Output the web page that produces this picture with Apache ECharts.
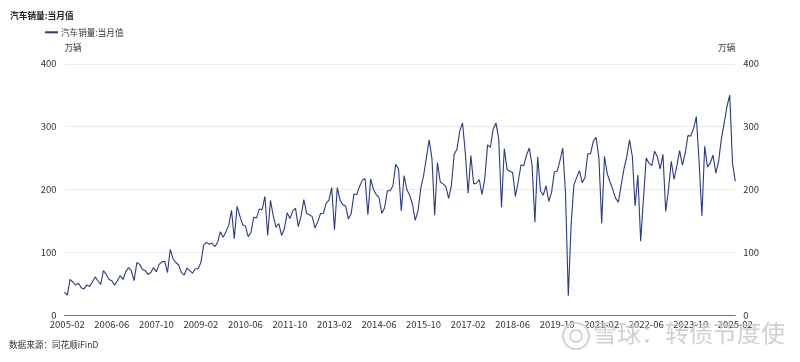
<!DOCTYPE html>
<html>
<head>
<meta charset="utf-8">
<script src="https://cdn.jsdelivr.net/npm/echarts@6/dist/echarts.min.js"></script>
<style>
html,body{margin:0;padding:0;background:#fff;}
#chart{width:800px;height:362px;}
</style>
</head>
<body>
<div id="chart"></div>
<script>
// Monthly auto sales (万辆), 2005-01 .. 2025-02
const sales2005 = [37, 32, 57, 53, 48, 51, 44, 42, 48, 46, 53, 61];
const sales2006 = [55, 49, 71, 65, 57, 55, 48, 55, 63, 57, 69, 76];
const sales2007 = [71, 55, 84, 81, 73, 71, 65, 68, 76, 69, 81, 85];
const sales2008 = [86, 68, 105, 90, 84, 80, 68, 64, 75, 71, 67, 74];
const sales2009 = [74, 84, 112, 116, 113, 115, 109, 116, 133, 124, 133, 143];
const sales2010 = [167, 122, 173, 158, 144, 142, 125, 132, 156, 155, 169, 168];
const sales2011 = [189, 127, 183, 158, 140, 146, 127, 138, 163, 154, 166, 170];
const sales2012 = [141, 158, 184, 162, 160, 157, 139, 149, 162, 162, 178, 183];
const sales2013 = [203, 136, 203, 183, 176, 174, 153, 162, 193, 192, 205, 215];
const sales2014 = [217, 160, 217, 200, 192, 187, 162, 171, 198, 198, 206, 240];
const sales2015 = [233, 166, 222, 200, 191, 177, 151, 166, 202, 222, 250, 279];
const sales2016 = [250, 159, 243, 212, 209, 205, 186, 206, 256, 264, 293, 306];
const sales2017 = [258, 194, 254, 209, 210, 216, 192, 218, 271, 267, 296, 306];
const sales2018 = [281, 172, 265, 232, 229, 227, 189, 212, 239, 238, 255, 266];
const sales2019 = [238, 148, 252, 198, 191, 206, 181, 196, 228, 229, 246, 266];
const sales2020 = [194, 31, 143, 207, 219, 230, 211, 219, 257, 257, 277, 283];
const sales2021 = [250, 146, 253, 225, 212, 200, 186, 180, 207, 233, 252, 279];
const sales2022 = [253, 174, 223, 118, 186, 250, 242, 238, 261, 252, 233, 256];
const sales2023 = [165, 200, 245, 216, 238, 262, 239, 258, 286, 285, 297, 316];
const sales2024 = [244, 158, 269, 236, 242, 255, 226, 245, 281, 305, 332, 350];
const sales2025 = [242, 213];

const startYear = 2005;
const yTicks = [0, 100, 200, 300, 400];
const seriesName = '汽车销量:当月值';
const unitName = '万辆';
const sourceText = '数据来源：同花顺iFinD';
const watermarkText = '雪球：转债节度使';

const values = [].concat(sales2005, sales2006, sales2007, sales2008, sales2009,
  sales2010, sales2011, sales2012, sales2013, sales2014, sales2015, sales2016,
  sales2017, sales2018, sales2019, sales2020, sales2021, sales2022, sales2023,
  sales2024, sales2025);

const categories = values.map(function (v, i) {
  const y = startYear + Math.floor(i / 12);
  const m = (i % 12) + 1;
  return y + '-' + (m < 10 ? '0' + m : '' + m);
});

const FONT = '"Noto Sans CJK SC", "Noto Sans", sans-serif';
const chart = echarts.init(document.getElementById('chart'), null, {renderer: 'canvas'});

const yAxisCommon = {
  type: 'value',
  min: yTicks[0],
  max: yTicks[yTicks.length - 1],
  interval: 100,
  name: unitName,
  nameGap: 12,
  axisLine: {show: false},
  axisTick: {show: false},
  axisLabel: {color: '#333', fontSize: 9.5, fontFamily: FONT, margin: 8},
};

chart.setOption({
  animation: false,
  textStyle: {fontFamily: FONT},
  title: {
    text: seriesName,
    left: 5,
    top: 6,
    textStyle: {fontSize: 8.7, fontWeight: 'bold', color: '#222', fontFamily: FONT}
  },
  legend: {
    data: [seriesName],
    left: 40,
    top: 23,
    itemWidth: 13,
    itemHeight: 2,
    icon: 'rect',
    itemGap: 4,
    textStyle: {fontSize: 8.6, color: '#333', fontFamily: FONT, padding: [0, 0, 0, -2]}
  },
  grid: {left: 64.5, right: 64.7, top: 63.8, bottom: 46.7, containLabel: false},
  xAxis: {
    type: 'category',
    data: categories,
    boundaryGap: false,
    axisLine: {lineStyle: {color: '#6e7485', width: 1}},
    axisTick: {show: false},
    axisLabel: {
      color: '#333',
      fontSize: 9.5,
      fontFamily: FONT,
      margin: 4,
      interval: function (index) { return index % 16 === 1; }
    },
    splitLine: {show: false}
  },
  yAxis: [
    Object.assign({}, yAxisCommon, {
      position: 'left',
      nameTextStyle: {color: '#333', fontSize: 8.6, fontFamily: FONT, align: 'left'},
      splitLine: {show: true, lineStyle: {color: '#ebebeb', width: 1}}
    }),
    Object.assign({}, yAxisCommon, {
      position: 'right',
      nameTextStyle: {color: '#333', fontSize: 8.6, fontFamily: FONT, align: 'right'},
      splitLine: {show: false}
    })
  ],
  series: [{
    name: seriesName,
    type: 'line',
    data: values,
    yAxisIndex: 0,
    showSymbol: false,
    symbol: 'none',
    lineStyle: {color: '#2b3a82', width: 1.1},
    itemStyle: {color: '#2b3a82'}
  }],
  graphic: [
    {
      type: 'text',
      left: 9,
      top: 340,
      style: {text: sourceText, fontSize: 8.6, fill: '#333', fontFamily: FONT}
    },
    {
      type: 'circle',
      shape: {cx: 576, cy: 336, r: 13},
      style: {fill: 'none', stroke: '#d6d6d6', lineWidth: 2},
      z: 100
    },
    {
      type: 'circle',
      shape: {cx: 576, cy: 336, r: 6},
      style: {fill: 'none', stroke: '#d6d6d6', lineWidth: 2},
      z: 100
    },
    {
      type: 'text',
      left: 593,
      top: 321,
      style: {text: watermarkText, fontSize: 24, fill: 'rgba(200,200,200,0.85)', fontFamily: FONT},
      z: 100
    }
  ]
});
</script>
</body>
</html>
